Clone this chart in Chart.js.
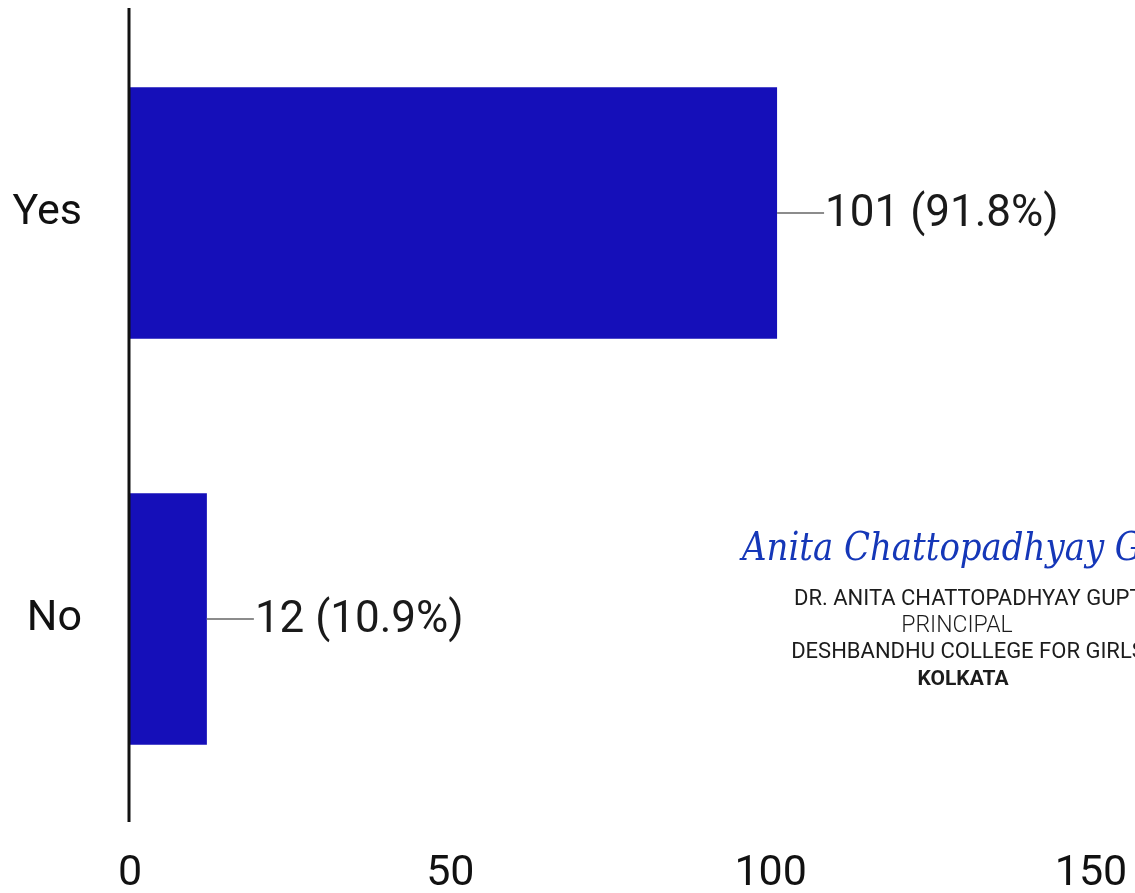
<!DOCTYPE html>
<html>
<head>
<meta charset="utf-8">
<script src="https://cdn.jsdelivr.net/npm/chart.js@4.4.1/dist/chart.umd.min.js"></script>
<style>
    html, body { margin: 0; padding: 0; background: #ffffff; }
    #wrap { width: 1135px; height: 893px; }
</style>
</head>
<body>
<div id="wrap"><canvas id="answerChart" width="1135" height="893"></canvas></div>
<script>
// Survey answers
const categories = ['Yes', 'No'];
const counts = [101, 12];
const percentLabels = ['91.8%', '10.9%'];
const xTicks = [0, 50, 100, 150];

// Principal's stamp lines shown in the lower right corner
const stampSignature = 'Anita Chattopadhyay G';
const stampLines = ['DR. ANITA CHATTOPADHYAY GUPTA', 'PRINCIPAL', 'DESHBANDHU COLLEGE FOR GIRLS', 'KOLKATA'];

const barColor = '#150fb9';

// value labels with a short grey leader line
const valueLabelPlugin = {
    id: 'valueLabels',
    afterDatasetsDraw(chart) {
        const ctx = chart.ctx;
        const meta = chart.getDatasetMeta(0);
        ctx.save();
        meta.data.forEach((bar, i) => {
            const x = bar.x;
            const y = bar.y;
            ctx.strokeStyle = '#8c8c8c';
            ctx.lineWidth = 2;
            ctx.beginPath();
            ctx.moveTo(x, y);
            ctx.lineTo(x + 47, y);
            ctx.stroke();
            ctx.fillStyle = '#1a1a1a';
            ctx.font = '44px Roboto';
            ctx.textAlign = 'left';
            ctx.textBaseline = 'middle';
            ctx.fillText(counts[i] + ' (' + percentLabels[i] + ')', x + 48, y + 2);
        });
        ctx.restore();
    }
};

// vertical axis line on the left of the bars
const axisLinePlugin = {
    id: 'axisLine',
    afterDraw(chart) {
        const ctx = chart.ctx;
        const x = chart.scales.x.getPixelForValue(0);
        ctx.save();
        ctx.strokeStyle = '#111111';
        ctx.lineWidth = 3;
        ctx.beginPath();
        ctx.moveTo(x - 1, chart.chartArea.top - 2);
        ctx.lineTo(x - 1, chart.chartArea.bottom);
        ctx.stroke();
        ctx.restore();
    }
};

// signature stamp
const stampPlugin = {
    id: 'stamp',
    afterDraw(chart) {
        const ctx = chart.ctx;
        ctx.save();
        ctx.fillStyle = '#1537b8';
        ctx.font = 'italic 40px "DejaVu Serif"';
        ctx.textAlign = 'left';
        ctx.textBaseline = 'alphabetic';
        const w = ctx.measureText(stampSignature).width;
        ctx.save();
        ctx.translate(742, 560);
        ctx.scale(400 / w, 1);
        ctx.fillText(stampSignature, 0, 0);
        ctx.restore();
        ctx.fillStyle = '#1c1c1c';
        ctx.textAlign = 'center';
        ctx.font = '22px Roboto';
        ctx.fillText(stampLines[0], 975, 605);
        ctx.font = '300 23px Roboto';
        ctx.fillText(stampLines[1], 957, 632);
        ctx.font = '22px Roboto';
        ctx.fillText(stampLines[2], 968, 658);
        ctx.font = 'bold 21px Roboto';
        ctx.fillText(stampLines[3], 963, 685);
        ctx.restore();
    }
};

new Chart(document.getElementById('answerChart').getContext('2d'), {
    type: 'bar',
    data: {
        labels: categories,
        datasets: [{
            data: counts,
            backgroundColor: barColor,
            borderWidth: 0,
            barPercentage: 0.62,
            categoryPercentage: 1
        }]
    },
    options: {
        indexAxis: 'y',
        responsive: false,
        animation: false,
        devicePixelRatio: 1,
        layout: {
            padding: { top: 10, right: 44, bottom: 0, left: 0 }
        },
        plugins: {
            legend: { display: false },
            tooltip: { enabled: false }
        },
        scales: {
            x: {
                min: 0,
                max: 150,
                afterBuildTicks(scale) {
                    scale.ticks = xTicks.map(v => ({ value: v }));
                },
                afterFit(scale) {
                    scale.height = 71;
                    scale.paddingLeft = 0;
                    scale.paddingRight = 0;
                    scale.paddingTop = 0;
                    scale.paddingBottom = 0;
                },
                grid: { display: false, drawTicks: false },
                border: { display: false },
                ticks: {
                    padding: 26,
                    color: '#111111',
                    font: { family: 'Roboto', size: 43 },
                    maxRotation: 0
                }
            },
            y: {
                afterFit(scale) {
                    scale.width = 130;
                    scale.paddingTop = 0;
                    scale.paddingBottom = 0;
                    scale.paddingLeft = 0;
                    scale.paddingRight = 0;
                },
                grid: { display: false, drawTicks: false },
                border: { display: false },
                ticks: {
                    padding: 48,
                    color: '#111111',
                    font: { family: 'Roboto', size: 43 }
                }
            }
        }
    },
    plugins: [valueLabelPlugin, axisLinePlugin, stampPlugin]
});
</script>
</body>
</html>
